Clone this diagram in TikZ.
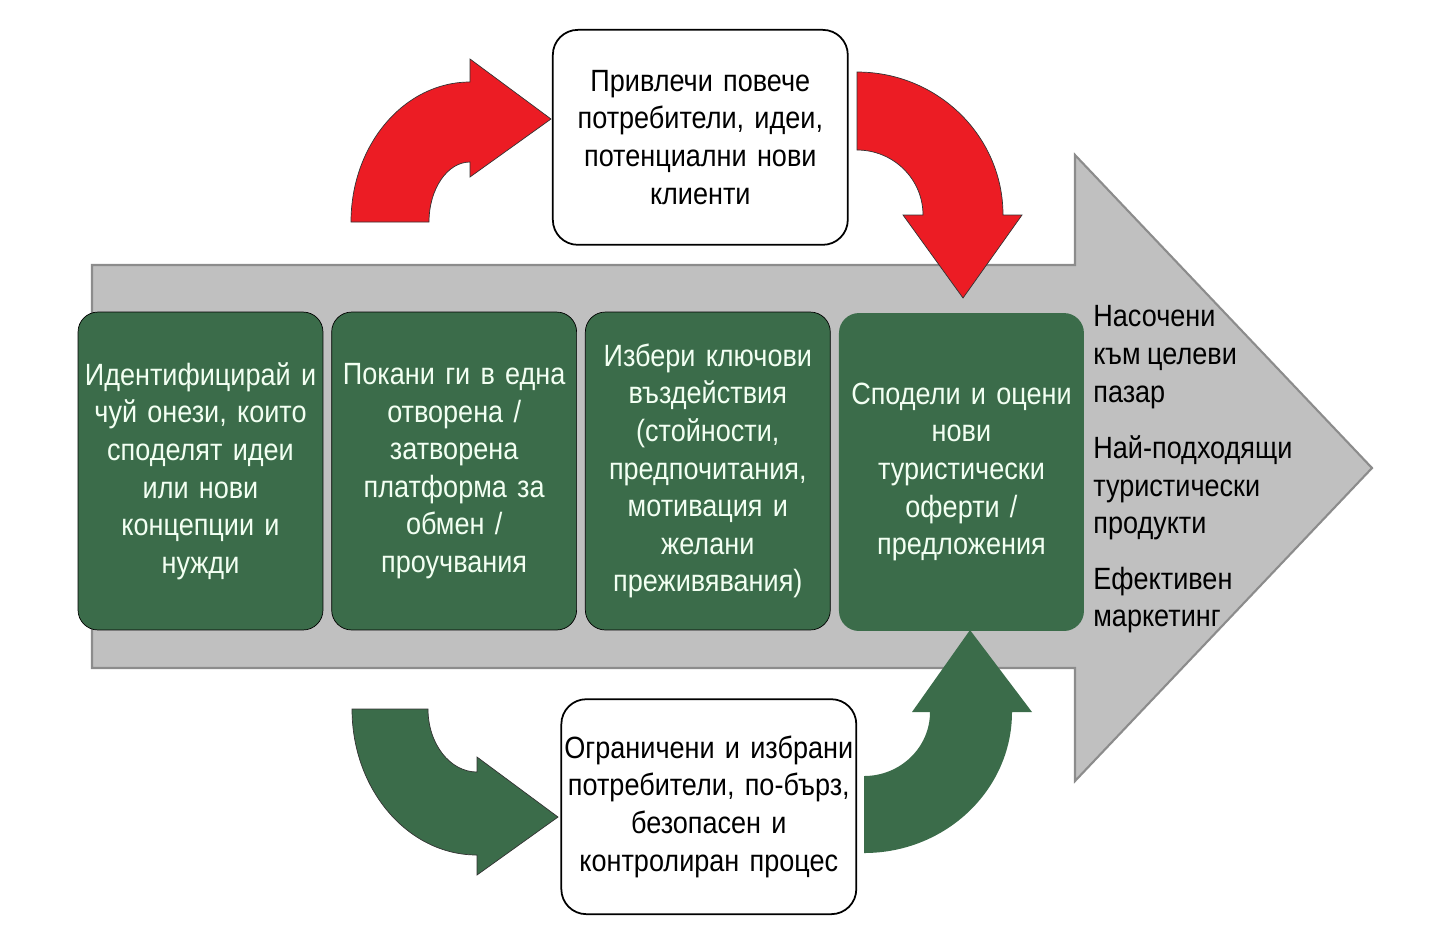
\documentclass[tikz,border=0pt]{standalone}
\usepackage{fontspec}
\setmainfont{Liberation Sans}[FakeStretch=0.88]
\usepackage{tikz}
\usetikzlibrary{positioning}

\definecolor{stepgreen}{RGB}{59,108,74}
\definecolor{bendred}{RGB}{236,28,36}
\definecolor{flowgray}{RGB}{192,192,192}
\newcommand{\flowfont}{\fontsize{17.5pt}{21.4pt}\selectfont\spaceskip=0.21em plus 0.05em minus 0.03em\relax}

\begin{document}
\begin{tikzpicture}[
    x=0.02cm, y=-0.02cm,
    node distance=0.16cm,
    every node/.style={font=\flowfont},
    stepbox/.style={draw=black, thin, rounded corners=0.4cm, fill=stepgreen, text=white!95!green, minimum width=4.9cm, minimum height=6.36cm, text width=4.8cm, inner sep=0.05cm, align=center},
    notebox/.style={draw=black, line width=1pt, rounded corners=0.5cm, fill=white, minimum width=5.9cm, minimum height=4.3cm, text width=5.8cm, inner sep=0.05cm, align=center},
    outtext/.style={anchor=west, inner sep=0pt, align=left},
    redbend/.style={fill=bendred, draw=black!80, line width=0.4pt},
    greenbend/.style={fill=stepgreen, draw=black!80, line width=0.4pt}
]
\useasboundingbox (0,0) rectangle (1435,938);

% Main flow arrow
\draw[fill=flowgray, draw=black!45, line width=1.2pt] (92,265) -- (1075,265) -- (1075,155) -- (1372,468) -- (1075,781) -- (1075,668) -- (92,668) -- cycle;

% Steps
\node[stepbox] (identify) at (200.5,471) {Идентифицирай и\\чуй онези, които\\споделят идеи\\или нови\\концепции и\\нужди};
\node[stepbox, right=of identify] (invite) {Покани ги в една\\отворена /\\затворена\\платформа за\\обмен /\\проучвания};
\node[stepbox, right=of invite] (select) {Избери ключови\\въздействия\\(стойности,\\предпочитания,\\мотивация и\\желани\\преживявания)};
\node[stepbox, right=of select, draw=none, yshift=-0.02cm] (share) {Сподели и оцени\\нови\\туристически\\оферти /\\предложения};

% Open and closed routes
\node[notebox, above=1.32cm of select, xshift=-0.15cm] (attract) {Привлечи повече\\потребители, идеи,\\потенциални нови\\клиенти};
\node[notebox, below=1.36cm of select, xshift=0.02cm] (limited) {Ограничени и избрани\\потребители, по-бърз,\\безопасен и\\контролиран процес};

% Results
\node[outtext] (target) at (1093,357) {Насочени\\към целеви\\пазар};
\node[outtext] (products) at (1093,488) {Най-подходящи\\туристически\\продукти};
\node[outtext] (marketing) at (1093,600) {Ефективен\\маркетинг};

% Curved arrows
\draw[redbend] (351,222) .. controls (351,144.7) and (404.3,82) .. (470,82) -- (470,59) -- (551,119) -- (470,177) -- (470,162) .. controls (447.4,162) and (429,188.9) .. (429,222) -- cycle;
\draw[redbend] (857,72) .. controls (937.6,72) and (1003,136) .. (1003,215) -- (1022,215) -- (963,298) -- (903,215) -- (923,215) .. controls (923,179.1) and (893.5,150) .. (857,150) -- cycle;
\draw[greenbend] (352,709) .. controls (352,789.6) and (408,855) .. (477,855) -- (477,875) -- (558,817) -- (477,757) -- (477,772) .. controls (450,772) and (428,743.8) .. (428,709) -- cycle;
\fill[stepgreen] (864,853) .. controls (945.7,853) and (1012,789.9) .. (1012,712) -- (1032,712) -- (970,630) -- (912,712) -- (930,712) .. controls (930,747.3) and (900.5,776) .. (864,776) -- cycle;

\end{tikzpicture}
\end{document}
